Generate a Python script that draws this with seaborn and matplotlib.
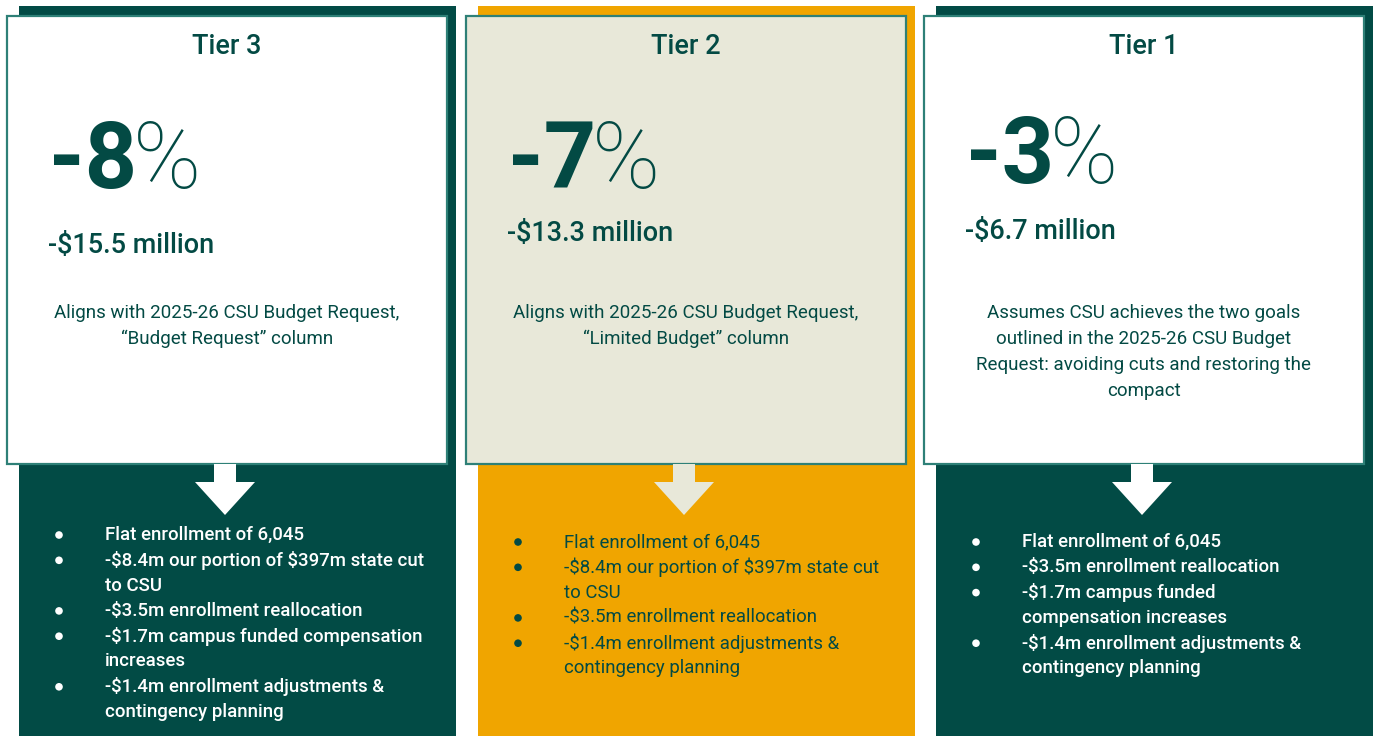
import numpy as np
import pandas as pd
import seaborn as sns
import matplotlib.pyplot as plt
from matplotlib.patches import Rectangle, Polygon

# Données des trois scénarios budgétaires
tiers = ['Tier 3', 'Tier 2', 'Tier 1']
pct_values = [-8, -7, -3]
dollar_cuts = [-15.5, -13.3, -6.7]
descriptions = [
    'Aligns with 2025-26 CSU Budget Request,\n\u201cBudget Request\u201d column',
    'Aligns with 2025-26 CSU Budget Request,\n\u201cLimited Budget\u201d column',
    'Assumes CSU achieves the two goals\noutlined in the 2025-26 CSU Budget\nRequest: avoiding cuts and restoring the\ncompact',
]
bullets_tier3 = [
    'Flat enrollment of 6,045',
    '-$8.4m our portion of $397m state cut\nto CSU',
    '-$3.5m enrollment reallocation',
    '-$1.7m campus funded compensation\nincreases',
    '-$1.4m enrollment adjustments &\ncontingency planning',
]
bullets_tier2 = [
    'Flat enrollment of 6,045',
    '-$8.4m our portion of $397m state cut\nto CSU',
    '-$3.5m enrollment reallocation',
    '-$1.4m enrollment adjustments &\ncontingency planning',
]
bullets_tier1 = [
    'Flat enrollment of 6,045',
    '-$3.5m enrollment reallocation',
    '-$1.7m campus funded\ncompensation increases',
    '-$1.4m enrollment adjustments &\ncontingency planning',
]
bullets = [bullets_tier3, bullets_tier2, bullets_tier1]

# Couleurs
dark_green = '#024b45'
teal = '#2e8077'
gold = '#f0a500'
beige = '#e8e8d9'
text_green = '#034a44'

bg_colors = [dark_green, gold, dark_green]
card_colors = ['white', beige, 'white']
arrow_colors = ['white', beige, 'white']
bullet_text_colors = ['white', text_green, 'white']
bullet_weights = ['medium', 'normal', 'medium']

# Mise en page (pixels)
card_x0 = [7, 466, 924]
card_w = 440
card_top, card_bottom = 16, 464
pct_y = [156, 156, 151]
dollar_y = [245, 234, 231]
bullet_start = [535, 542, 542]
line_step = 25.3

sns.set_theme(style='white')
plt.rcParams['font.family'] = ['Roboto', 'DejaVu Sans']

fig = plt.figure(figsize=(13.74, 7.36), dpi=100)
ax = fig.add_axes([0, 0, 1, 1])
ax.set_xlim(0, 1374)
ax.set_ylim(736, 0)
ax.axis('off')

for i, tier in enumerate(tiers):
    x0 = card_x0[i]
    x1 = x0 + card_w
    cx = (x0 + x1) / 2

    # Fond coloré derrière la carte
    ax.add_patch(Rectangle((x0 + 12, 6), card_w - 3, 740, facecolor=bg_colors[i],
                           edgecolor='none', zorder=1))
    # Carte
    ax.add_patch(Rectangle((x0, card_top), card_w, card_bottom - card_top,
                           facecolor=card_colors[i], edgecolor=teal, lw=1.6, zorder=2))
    # Flèche
    ax_c = cx - 2
    arrow = Polygon([(ax_c - 11, card_bottom), (ax_c + 11, card_bottom), (ax_c + 11, 482),
                     (ax_c + 30, 482), (ax_c, 515), (ax_c - 30, 482), (ax_c - 11, 482)],
                    closed=True, facecolor=arrow_colors[i], edgecolor='none', zorder=3)
    ax.add_patch(arrow)

    # Titre
    ax.text(cx, 46, tier, ha='center', va='center', fontsize=19.5, weight='medium',
            color=text_green, zorder=4)

    # Pourcentage
    t = ax.text(x0 + 42, pct_y[i] + 32, f'-{abs(pct_values[i])}', ha='left', va='baseline',
                fontsize=66, weight='bold', color=text_green, zorder=4)
    ax.annotate('%', xy=(1, 0), xycoords=t, xytext=(-3, 0), textcoords='offset points',
                ha='left', va='bottom', fontsize=66, weight='light', color=text_green, zorder=4)

    # Montant
    ax.text(x0 + 41, dollar_y[i], f'-${abs(dollar_cuts[i]):.1f} million', ha='left', va='center',
            fontsize=19.5, weight='medium', color=text_green, zorder=4, parse_math=False)

    # Description
    for k, line in enumerate(descriptions[i].split('\n')):
        ax.text(cx, 313 + 26 * k, line, ha='center', va='center', fontsize=13.5,
                color=text_green, zorder=4)

    # Puces
    y = bullet_start[i]
    dots_x, dots_y = [], []
    for item in bullets[i]:
        dots_x.append(x0 + 52)
        dots_y.append(y)
        for line in item.split('\n'):
            ax.text(x0 + 98, y, line, ha='left', va='center', fontsize=13.4,
                    weight=bullet_weights[i], color=bullet_text_colors[i], zorder=4,
                    parse_math=False)
            y += line_step
    sns.scatterplot(x=dots_x, y=dots_y, ax=ax, s=30, color=bullet_text_colors[i],
                    edgecolor='none', zorder=5, legend=False)

ax.set_xlim(0, 1374)
ax.set_ylim(736, 0)
ax.axis('off')
fig.savefig('out.png', dpi=100, facecolor='white')
